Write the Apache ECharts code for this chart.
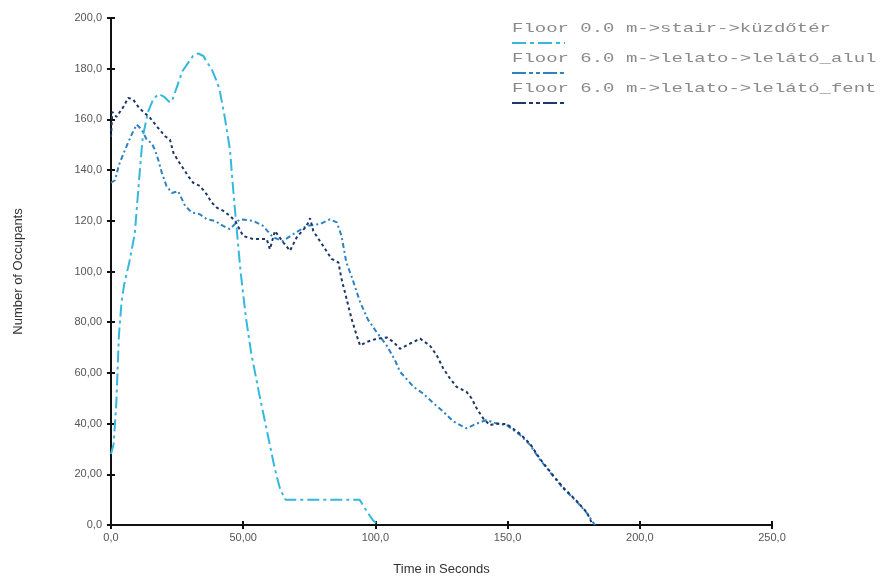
<!DOCTYPE html>
<html>
<head>
<meta charset="utf-8">
<script src="https://cdn.jsdelivr.net/npm/echarts@6/dist/echarts.min.js"></script>
<style>
  html, body { margin: 0; padding: 0; background: #fff; }
  #chart { width: 896px; height: 581px; }
</style>
</head>
<body>
<div id="chart"></div>
<script>
// tick labels as printed in the original
var xTickLabels = ['0,0', '50,00', '100,0', '150,0', '200,0', '250,0']
var yTickLabels = ['0,0', '20,00', '40,00', '60,00', '80,00', '100,0', '120,0', '140,0', '160,0', '180,0', '200,0']

var seriesNames = [
    'Floor 0.0 m->stair->küzdőtér',
    'Floor 6.0 m->lelato->lelátó_alul',
    'Floor 6.0 m->lelato->lelátó_fent'
]

// küzdőtér
var stairT = [0, 1, 2, 3, 4, 5, 7, 9, 10, 11, 12, 14, 16, 18, 20, 22, 23, 25, 27, 29, 31, 33, 35, 36, 38, 40, 41, 43, 45, 46, 47, 49, 51, 53, 56, 58, 60, 62, 64, 66, 94, 97, 99, 101]
var stairV = [28, 32, 48, 75, 88, 95, 104, 115, 128, 141, 153, 163, 168, 170, 169, 167, 167, 173, 179, 182, 185, 186, 185, 183, 180, 175, 172, 161, 148, 135, 123, 100, 82, 68, 52, 42, 32, 22, 14, 10, 10, 5, 2, 0]

// lelátó_alul
var alulT = [0, 1.5, 3, 5.3, 7.8, 9.7, 11.6, 13.5, 15.4, 16.6, 17.9, 19.2, 21, 23, 25.4, 28, 30.5, 33.6, 36.2, 39.3, 42.4, 45, 47.5, 48.8, 53.8, 57.5, 61.3, 65, 68.9, 74, 79, 82.8, 85.4, 87.2, 89, 91, 94.2, 97.2, 100.5, 104.3, 107.4, 109.3, 114.3, 118, 121.3, 125.6, 129.4, 134.5, 138.3, 142, 145.9, 149.7, 154.7, 158.5, 162.3, 167.3, 171, 176, 180, 183]
var alulV = [135, 136, 142, 148, 154, 158, 156, 152, 150.6, 148, 144, 139, 133.7, 131, 131.7, 126, 123.3, 122.6, 120.6, 120, 118, 116.7, 119.4, 120.6, 120, 118, 113.5, 112, 114.7, 118, 118.7, 120.6, 119.4, 114, 103.6, 98, 88, 81, 76, 70.8, 65, 60.5, 54.6, 51.9, 48.7, 44.8, 40.9, 38.1, 40, 41.4, 40, 39.4, 35.5, 31.6, 25.7, 19.2, 14.5, 9.4, 4.7, 0]

// lelátó_fent
var fentT = [0, 0.5, 2.1, 4.7, 6.5, 8.4, 10.3, 12.2, 14.7, 17.3, 20.4, 22.3, 23.6, 25.5, 28, 29.2, 31.1, 33.7, 36.2, 38.1, 40, 42.5, 45, 46.9, 50, 53.8, 58.9, 60.1, 62, 65.2, 67.7, 70.2, 74, 75.3, 76.5, 80.3, 83.4, 86, 87.2, 89.1, 91, 92.9, 94.2, 96.7, 100.5, 104.3, 106.8, 109.3, 113, 116.9, 120.6, 123.2, 125.7, 128.2, 130.7, 134.5, 136.4, 138.3, 140.8, 143.3, 145.9, 149.7, 154.7, 158.5, 162.3, 167.3, 171, 176, 180, 182]
var fentV = [153, 163, 161, 165, 168.5, 167.8, 165, 163, 160.7, 157.3, 153.4, 152, 146.8, 143.5, 139.6, 137.6, 135, 133.7, 130.4, 127.2, 125.2, 123.9, 121.9, 120, 114, 112.8, 112.8, 108.8, 116, 111.4, 108.2, 113.4, 118, 121, 116, 110, 105, 103.6, 97, 89.2, 81.3, 74.8, 70.8, 72.2, 73.5, 74, 72.2, 69.5, 71.5, 73.5, 70.8, 66.9, 61.7, 57.8, 54.5, 52.5, 49.9, 46, 42, 39.4, 40, 39.8, 36, 32, 26, 19.5, 14.8, 9.6, 4.9, 0.5]

var colors = ['#35b8dc', '#2d82c4', '#1d3768']
var dashes = [[12, 4, 3, 4], [5, 3, 2, 3], [3, 3]]
var legendDashes = [[14, 4, 4, 4], [14, 3, 4, 3, 4, 3], [14, 3, 4, 3, 4, 3]]

function zip(t, v) {
    return t.map(function (x, i) { return [x, v[i]] })
}

var chart = echarts.init(document.getElementById('chart'))
var fontColor = '#555'

function makeX(showLabels, inside) {
    return {
        type: 'value',
        min: 0,
        max: 250,
        interval: 50,
        position: 'bottom',
        name: showLabels ? 'Time in Seconds' : '',
        nameLocation: 'middle',
        nameGap: 38,
        nameTextStyle: { color: '#333', fontSize: 13, fontFamily: 'Liberation Sans' },
        axisLine: { show: true, onZero: false, lineStyle: { color: '#111', width: 2 } },
        axisTick: { show: true, inside: inside, length: 4, lineStyle: { color: '#111', width: 2 } },
        axisLabel: {
            show: showLabels,
            color: fontColor,
            fontSize: 11,
            fontFamily: 'Liberation Sans',
            margin: 7,
            formatter: function (v) { return xTickLabels[Math.round(v / 50)] }
        },
        splitLine: { show: false }
    }
}

function makeY(showLabels, inside) {
    return {
        type: 'value',
        min: 0,
        max: 200,
        interval: 20,
        position: 'left',
        offset: 0,
        name: showLabels ? 'Number of Occupants' : '',
        nameLocation: 'middle',
        nameGap: 86,
        nameTextStyle: { color: '#333', fontSize: 13, fontFamily: 'Liberation Sans' },
        axisLine: { show: true, onZero: false, lineStyle: { color: '#111', width: 2 } },
        axisTick: { show: true, inside: inside, length: 4, lineStyle: { color: '#111', width: 2 } },
        axisLabel: {
            show: showLabels,
            color: fontColor,
            fontSize: 11,
            fontFamily: 'Liberation Sans',
            margin: 9,
            formatter: function (v) { return yTickLabels[Math.round(v / 20)] }
        },
        splitLine: { show: false }
    }
}

var legendItems = []
seriesNames.forEach(function (name, i) {
    var top = 22 + i * 30
    legendItems.push({
        type: 'text',
        x: 512,
        y: top,
        scaleX: 1.46,
        style: {
            text: name,
            font: '13px "Liberation Mono"',
            fill: '#8a8a8a'
        }
    })
    legendItems.push({
        type: 'line',
        shape: { x1: 512, y1: top + 21, x2: 565, y2: top + 21 },
        style: { stroke: colors[i], lineWidth: 2, lineDash: legendDashes[i] }
    })
})

var option = {
    backgroundColor: '#fff',
    animation: false,
    grid: { left: 111, right: 124, top: 18, bottom: 54, containLabel: false },
    xAxis: [makeX(true, false), makeX(false, true)],
    yAxis: [makeY(true, false), makeY(false, true)],
    graphic: legendItems,
    series: [
        { t: stairT, v: stairV },
        { t: alulT, v: alulV },
        { t: fentT, v: fentV }
    ].map(function (s, i) {
        return {
            name: seriesNames[i],
            type: 'line',
            xAxisIndex: 0,
            yAxisIndex: 0,
            showSymbol: false,
            symbol: 'none',
            smooth: false,
            lineStyle: { color: colors[i], width: 2, type: dashes[i] },
            itemStyle: { color: colors[i] },
            data: zip(s.t, s.v)
        }
    })
}
chart.setOption(option)
</script>
</body>
</html>
